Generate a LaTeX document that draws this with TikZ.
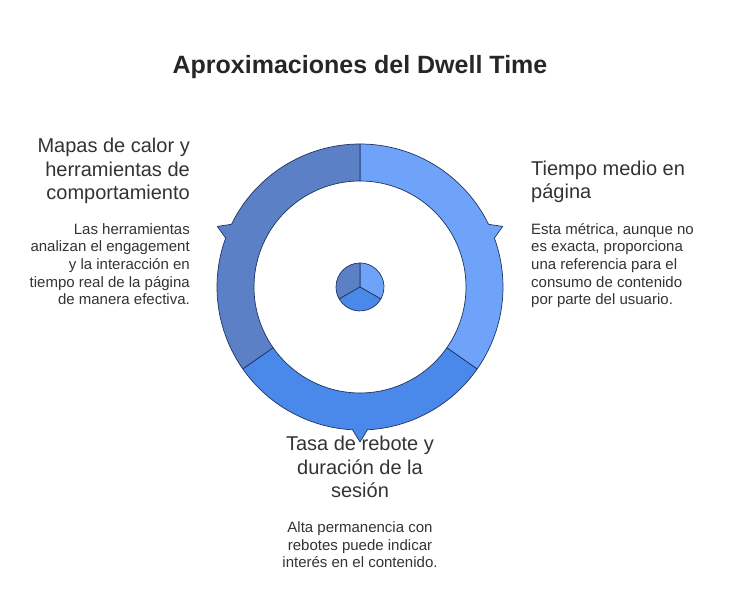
\documentclass[tikz,border=0pt]{standalone}
\usepackage{fontspec}
\setmainfont{Liberation Sans}

\definecolor{segleft}{HTML}{5B80C6}
\definecolor{segright}{HTML}{6FA3F9}
\definecolor{segbottom}{HTML}{4A88EA}
\definecolor{ringline}{HTML}{1F3560}
\definecolor{headtext}{HTML}{333333}
\definecolor{bodytext}{HTML}{333333}
\definecolor{titletext}{HTML}{262626}

\tikzset{
  segment/.style={draw=ringline, line width=0.7pt, line join=round},
  heading/.style={font=\fontsize{20}{23.5}\selectfont, text=headtext, inner sep=0pt},
  body/.style={font=\fontsize{15}{17.7}\selectfont, text=bodytext, inner sep=0pt},
}

\begin{document}
\begin{tikzpicture}[x=1pt, y=1pt]
  \useasboundingbox (0,0) rectangle (732,615);
  \coordinate (ctr) at (360,328);

  % texts (base anchor sits on the last line)
  \node[font=\fontsize{25}{30}\selectfont\bfseries, text=titletext, inner sep=0pt, anchor=base] (title) at (360,541) {Aproximaciones del Dwell Time};

  \node[heading, align=right, anchor=base east] (calorhead) at (190,415) {Mapas de calor y\\herramientas de\\comportamiento};
  \node[body, align=right, anchor=base east] (calorbody) at (190,310) {Las herramientas\\analizan el engagement\\y la interacción en\\tiempo real de la página\\de manera efectiva.};

  \node[heading, align=left, anchor=base west] (tiempohead) at (531,416) {Tiempo medio en\\página};
  \node[body, align=left, anchor=base west] (tiempobody) at (531,310) {Esta métrica, aunque no\\es exacta, proporciona\\una referencia para el\\consumo de contenido\\por parte del usuario.};

  \node[heading, align=center, anchor=base] (tasahead) at (360,117) {Tasa de rebote y\\duración de la\\sesión};
  \node[body, align=center, anchor=base] (tasabody) at (360,47) {Alta permanencia con\\rebotes puede indicar\\interés en el contenido.};

  % outer ring, one segment per topic, each with its pointer
  \foreach \a/\b/\p/\col in {-35/90/23/segright, 90/215/157/segleft, 215/325/270/segbottom} {
    \draw[segment, fill=\col] ([shift={(\a:143)}]ctr)
      arc[start angle=\a, end angle=\p-3, radius=143]
      -- ([shift={(\p:155)}]ctr) -- ([shift={(\p+3:143)}]ctr)
      arc[start angle=\p+3, end angle=\b, radius=143]
      -- ([shift={(\b:106)}]ctr)
      arc[start angle=\b, end angle=\a, radius=106] -- cycle;
  }

  % small pie in the middle
  \foreach \a/\b/\col in {-30/90/segright, 90/210/segleft, 210/330/segbottom} {
    \draw[segment, fill=\col] (ctr) -- ([shift={(\a:24)}]ctr)
      arc[start angle=\a, end angle=\b, radius=24] -- cycle;
  }
\end{tikzpicture}
\end{document}
